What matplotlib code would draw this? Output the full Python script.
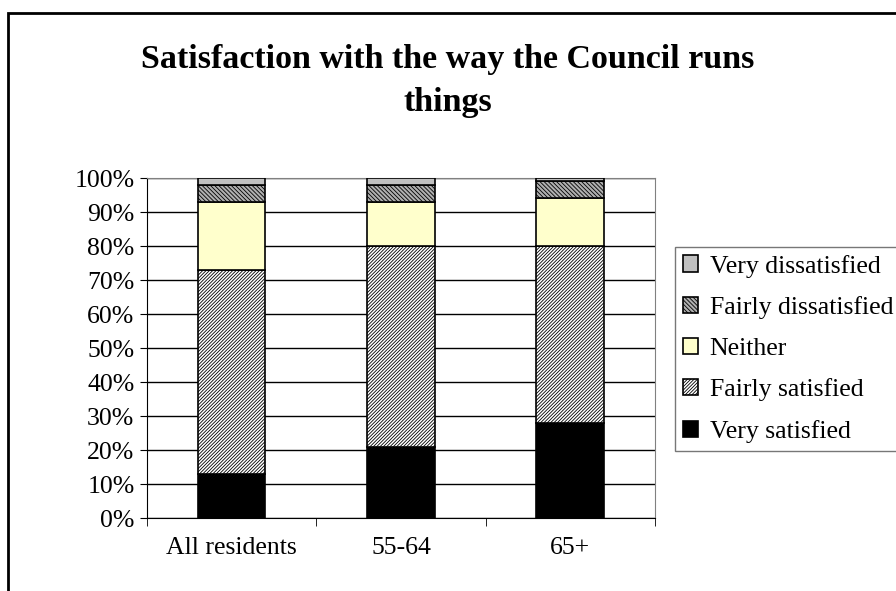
import matplotlib.pyplot as plt
from matplotlib.patches import Rectangle
import numpy as np

# chart data (percentages)
groups = ['All residents', '55-64', '65+']
very_satisfied = [13, 21, 28]
fairly_satisfied = [60, 59, 52]
neither = [20, 13, 14]
fairly_dissatisfied = [5, 5, 5]
very_dissatisfied = [2, 2, 1]

series = [
    ('Very satisfied', very_satisfied, '#000000', None),
    ('Fairly satisfied', fairly_satisfied, '#FFFFFF', '//////////'),
    ('Neither', neither, '#FFFFCC', None),
    ('Fairly dissatisfied', fairly_dissatisfied, '#B0B0B0', '\\\\\\\\\\\\\\\\'),
    ('Very dissatisfied', very_dissatisfied, '#C0C0C0', None),
]

plt.rcParams['font.family'] = ['Liberation Serif', 'DejaVu Serif']
plt.rcParams['hatch.linewidth'] = 0.6

fig = plt.figure(figsize=(8.96, 5.91), dpi=100)
ax = fig.add_axes([0.164, 0.1235, 0.567, 0.5753])

x = np.arange(len(groups))
bottom = np.zeros(len(groups))
handles = []
for label, vals, color, hatch in series:
    b = ax.bar(x, vals, width=0.4, bottom=bottom, color=color, edgecolor='black',
               linewidth=1.2, hatch=hatch, label=label, zorder=3)
    handles.append(b)
    bottom += np.array(vals)

ax.set_xlim(-0.5, 2.5)
ax.set_ylim(0, 100)
ax.set_yticks(range(0, 101, 10))
ax.set_yticklabels([f'{v}%' for v in range(0, 101, 10)])
ax.set_xticks(x)
ax.set_xticklabels(groups)
ax.tick_params(axis='x', length=0, labelsize=18.5, pad=14)
ax.tick_params(axis='y', length=5, direction='out', labelsize=18.5, pad=4)
ax.set_xticks([-0.5, 0.5, 1.5, 2.5], minor=True)
ax.tick_params(axis='x', which='minor', length=6, direction='out')
ax.yaxis.grid(True, color='black', linewidth=1, zorder=0)
ax.set_axisbelow(True)
for side in ['top', 'right']:
    ax.spines[side].set_color('#808080')
for side in ['left', 'bottom']:
    ax.spines[side].set_color('black')

fig.text(0.5, 0.925, 'Satisfaction with the way the Council runs\nthings',
         ha='center', va='top', fontsize=24.5, fontweight='bold', linespacing=1.5)

leg = fig.legend(handles[::-1], [s[0] for s in series][::-1], loc='upper left',
                 bbox_to_anchor=(675 / 896, 1 - 247 / 591), fontsize=18.5,
                 frameon=True, fancybox=False, handlelength=0.6, handleheight=0.6,
                 handletextpad=0.45, labelspacing=0.72, borderpad=0.3, borderaxespad=0)
leg.get_frame().set_edgecolor('#555555')
leg.get_frame().set_linewidth(1)

# outer chart border, running off the right and bottom edges
fig.patches.append(Rectangle((8 / 896, -0.1), 1.2, 1 - 13 / 591 + 0.1,
                             transform=fig.transFigure, fill=False,
                             edgecolor='black', linewidth=2))

fig.savefig('out.png', dpi=100)
